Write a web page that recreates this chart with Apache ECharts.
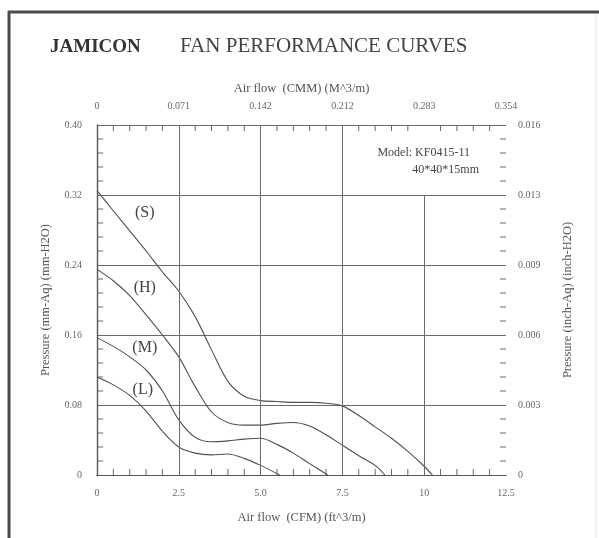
<!DOCTYPE html>
<html><head><meta charset="utf-8">
<script src="https://cdn.jsdelivr.net/npm/echarts@6/dist/echarts.min.js"></script>
<style>html,body{margin:0;padding:0;background:#fff}#c{width:599px;height:538px}</style>
</head><body><div id="c"></div>
<script>
// Tick labels
const cfmTicks  = ['0','2.5','5.0','7.5','10','12.5'];
const cmmTicks  = ['0','0.071','0.142','0.212','0.283','0.354'];
const mmTicks   = ['0','0.08','0.16','0.24','0.32','0.40'];
const inchTicks = ['0','0.003','0.006','0.009','0.013','0.016'];

// Curves: air flow (CFM) vs pressure (mm-Aq)
const sFlow = [0,0.5,1,1.5,2,2.5,3,3.5,4,4.5,5,5.5,6,6.5,7,7.5,8,8.5,9,9.5,10,10.25];
const sPres = [0.325,0.302,0.279,0.256,0.232,0.210,0.181,0.143,0.107,0.090,0.085,0.084,0.083,0.083,0.082,0.079,0.068,0.055,0.042,0.027,0.010,0];
const hFlow = [0,0.5,1,1.5,2,2.5,3,3.5,4,4.5,5,5.5,6,6.5,7,7.5,8,8.5,8.8];
const hPres = [0.235,0.222,0.205,0.183,0.160,0.135,0.101,0.072,0.060,0.057,0.057,0.059,0.060,0.056,0.046,0.034,0.022,0.011,0];
const mFlow = [0,0.5,1,1.5,2,2.5,3,3.5,4,4.5,5,5.5,6,6.5,7.05];
const mPres = [0.157,0.147,0.135,0.120,0.096,0.063,0.043,0.038,0.039,0.041,0.042,0.035,0.025,0.013,0];
const lFlow = [0,0.5,1,1.5,2,2.5,3,3.5,4,4.5,5,5.58];
const lPres = [0.112,0.103,0.091,0.073,0.050,0.032,0.025,0.023,0.024,0.019,0.011,0];

const curveNames = ['(S)','(H)','(M)','(L)'];
const gridFlows = [2.5,5,7.5];
const shortGridFlow = 10, shortGridTop = 0.32;

const FONT = "'Liberation Serif','DejaVu Serif',serif";
const INK = '#555';
const zip = (a,b) => a.map((v,i)=>[v,b[i]]);

// inward minor ticks: 5 divisions per major interval
const minorTicks = [];
for (let k = 1; k < 25; k++) if (k % 5) { minorTicks.push([k*0.5, 0], [k*0.5, 1]); }
for (let k = 1; k < 25; k++) if (k % 5) { minorTicks.push([k*0.016, 2], [k*0.016, 3]); }

const chart = echarts.init(document.getElementById('c'), null, {renderer:'canvas'});

const lbl = {fontFamily:FONT, fontSize:10, color:'#666'};
const nameStyle = {fontFamily:FONT, fontSize:12.5, color:'#555'};

function curve(name, fx, py, lx, ly) {
  return {
    type:'line', name, data: zip(fx, py), smooth:0.3,
    symbol:'none', lineStyle:{color:'#505050', width:1.1}, silent:true,
    markPoint:{symbol:'circle', symbolSize:0, silent:true,
      label:{show:true, formatter:name, fontFamily:FONT, fontSize:16, color:'#444'},
      data:[{coord:[lx, ly]}]}
  };
}

const series = [
  curve(curveNames[0], sFlow, sPres, 1.46, 0.300),
  curve(curveNames[1], hFlow, hPres, 1.46, 0.214),
  curve(curveNames[2], mFlow, mPres, 1.46, 0.145),
  curve(curveNames[3], lFlow, lPres, 1.40, 0.097),
  {
    type:'custom', silent:true, clip:false, data:minorTicks,
    encode:{x:-1, y:-1},
    renderItem:(params, api) => {
      const v = api.value(0), side = api.value(1), L = 6;
      let p, q;
      if (side === 0) { p = api.coord([v, 0]);    q = [p[0], p[1]-L]; }
      else if (side === 1) { p = api.coord([v, 0.4]); q = [p[0], p[1]+L]; }
      else if (side === 2) { p = api.coord([0, v]);   q = [p[0]+L, p[1]]; }
      else { p = api.coord([12.5, v]); q = [p[0]-L, p[1]]; }
      return {type:'line', shape:{x1:p[0], y1:p[1], x2:q[0], y2:q[1]},
              style:{stroke:'#666', lineWidth:1}};
    }
  }
];
series[0].markLine = {
  silent:true, symbol:'none', animation:false,
  label:{show:false}, lineStyle:{color:'#6a6a6a', width:1, type:'solid'},
  data: gridFlows.map(v=>({xAxis:v})).concat([[{coord:[shortGridFlow,0]},{coord:[shortGridFlow,shortGridTop]}]])
};

chart.setOption({
  animation:false,
  backgroundColor:'#fff',
  grid:{left:97, right:93, top:125, bottom:63},
  xAxis:[
    {type:'value', position:'bottom', min:0, max:12.5, interval:2.5,
     axisLine:{lineStyle:{color:INK, width:1.2}},
     axisTick:{show:false}, splitLine:{show:false},
     axisLabel:{...lbl, margin:13, formatter:(v,i)=>cfmTicks[i]},
     name:'Air flow  (CFM) (ft^3/m)', nameLocation:'middle', nameGap:36, nameTextStyle:nameStyle},
    {type:'value', position:'top', min:0, max:12.5, interval:2.5,
     axisLine:{lineStyle:{color:INK, width:1.2}},
     axisTick:{show:false}, splitLine:{show:false},
     axisLabel:{...lbl, margin:14, formatter:(v,i)=>cmmTicks[i]},
     name:'Air flow  (CMM) (M^3/m)', nameLocation:'middle', nameGap:30, nameTextStyle:nameStyle}
  ],
  yAxis:[
    {type:'value', position:'left', min:0, max:0.4, interval:0.08,
     axisLine:{show:true, lineStyle:{color:INK, width:1.2}},
     axisTick:{show:false},
     splitLine:{show:true, lineStyle:{color:'#6a6a6a', width:1}},
     axisLabel:{...lbl, margin:15, formatter:(v,i)=>mmTicks[i]},
     name:'Pressure (mm-Aq) (mm-H2O)', nameLocation:'middle', nameGap:45, nameTextStyle:nameStyle},
    {type:'value', position:'right', min:0, max:0.4, interval:0.08,
     axisLine:{show:true, lineStyle:{color:INK, width:1.2}},
     axisTick:{show:false}, splitLine:{show:false},
     axisLabel:{...lbl, margin:12, formatter:(v,i)=>inchTicks[i]},
     name:'Pressure (inch-Aq) (inch-H2O)', nameLocation:'middle', nameGap:55, nameRotate:90, nameTextStyle:nameStyle}
  ],
  series,
  graphic:[
    {type:'line', shape:{x1:8, y1:12, x2:599, y2:12}, style:{stroke:'#4a4a4a', lineWidth:3}, silent:true},
    {type:'line', shape:{x1:9, y1:11, x2:9, y2:538}, style:{stroke:'#4a4a4a', lineWidth:3}, silent:true},
    {type:'line', shape:{x1:596, y1:14, x2:596, y2:538}, style:{stroke:'#e2e2e2', lineWidth:1}, silent:true},
    {type:'text', left:50, top:38, style:{text:'JAMICON', font:"bold 19px 'Liberation Serif',serif", fill:'#333'}},
    {type:'text', left:180, top:36, style:{text:'FAN PERFORMANCE CURVES', font:"21px 'Liberation Serif',serif", fill:'#444'}},
    {type:'text', right:129, top:147, style:{text:'Model: KF0415-11', font:"12px 'Liberation Serif',serif", fill:'#444', textAlign:'right'}},
    {type:'text', right:120, top:164, style:{text:'40*40*15mm', font:"12px 'Liberation Serif',serif", fill:'#444', textAlign:'right'}}
  ]
});
</script></body></html>
